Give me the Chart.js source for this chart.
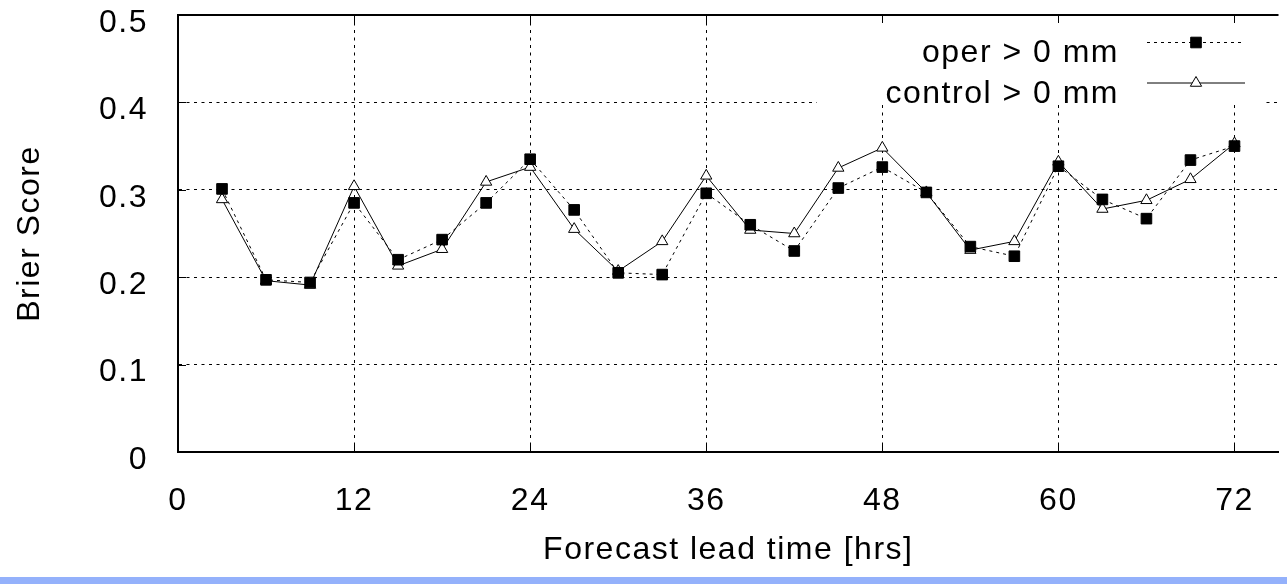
<!DOCTYPE html>
<html>
<head>
<meta charset="utf-8">
<script src="https://cdn.jsdelivr.net/npm/chart.js@4/dist/chart.umd.min.js"></script>
<style>
  html, body { margin: 0; padding: 0; background: #fff; overflow: hidden; }
  #wrap { position: relative; width: 1287px; height: 584px; }
  #bar { position: absolute; left: 0; top: 577px; width: 1287px; height: 7px; background: #94b1fb; }
</style>
</head>
<body>
<div id="wrap">
  <canvas id="chart"></canvas>
  <div id="bar"></div>
</div>
<script>
// forecast lead time (hrs)
const hours = [3, 6, 9, 12, 15, 18, 21, 24, 27, 30, 33, 36, 39, 42, 45, 48, 51, 54, 57, 60, 63, 66, 69, 72];
// Brier score
const oper = [0.301, 0.197, 0.194, 0.285, 0.220, 0.243, 0.285, 0.335, 0.277, 0.205, 0.203, 0.296,
              0.260, 0.230, 0.302, 0.326, 0.297, 0.235, 0.224, 0.327, 0.289, 0.267, 0.334, 0.350];
const control = [0.289, 0.196, 0.191, 0.304, 0.213, 0.232, 0.309, 0.326, 0.255, 0.207, 0.241, 0.316,
                 0.254, 0.250, 0.325, 0.348, 0.297, 0.231, 0.241, 0.332, 0.278, 0.288, 0.312, 0.353];
const seriesNames = ['oper > 0 mm', 'control > 0 mm'];
const xTicks = [0, 12, 24, 36, 48, 60, 72];
const xLabels = ['0', '12', '24', '36', '48', '60', '72'];
const yTicks = [0, 0.1, 0.2, 0.3, 0.4, 0.5];
const yLabels = ['0', '0.1', '0.2', '0.3', '0.4', '0.5'];

Chart.defaults.font.family = "'Liberation Sans', Arial, sans-serif";
Chart.defaults.font.size = 32;
Chart.defaults.color = '#000';

const SPACING = '1.5px';

// gnuplot style frame: top border, inward tics, boxed key
const gnuFrame = {
    id: 'gnuFrame',
    beforeLayout(chart) { chart.ctx.letterSpacing = SPACING; },
    beforeDraw(chart) { chart.ctx.letterSpacing = SPACING; },
    beforeDatasetsDraw(chart) {
        const ctx = chart.ctx;
        ctx.save();
        ctx.fillStyle = '#fff';
        ctx.fillRect(817, chart.chartArea.top + 1, 448, 89);
        ctx.fillStyle = '#000';
        ctx.font = "32px 'Liberation Sans', Arial, sans-serif";
        ctx.letterSpacing = SPACING;
        ctx.textAlign = 'right';
        ctx.textBaseline = 'alphabetic';
        const rows = [62, 103];
        const samples = [42.5, 83];
        chart.data.datasets.forEach((ds, i) => {
            ctx.fillText(seriesNames[i], 1119, rows[i]);
            ctx.save();
            ctx.strokeStyle = '#000';
            ctx.lineWidth = 1;
            ctx.setLineDash(ds.borderDash || []);
            ctx.beginPath();
            ctx.moveTo(1147, samples[i]);
            ctx.lineTo(1245, samples[i]);
            ctx.stroke();
            ctx.restore();
            ctx.save();
            ctx.fillStyle = ds.pointBackgroundColor;
            ctx.strokeStyle = ds.pointBorderColor;
            ctx.lineWidth = 1;
            Chart.helpers.drawPoint(ctx, { pointStyle: ds.pointStyle, radius: ds.pointRadius, borderWidth: 1, rotation: 0 }, 1196, samples[i]);
            ctx.restore();
        });
        ctx.restore();
    },
    afterDraw(chart) {
        const ctx = chart.ctx;
        const a = chart.chartArea;
        const x = chart.scales.x, y = chart.scales.y;
        ctx.save();
        ctx.strokeStyle = '#000';
        ctx.lineWidth = 2;
        ctx.beginPath();
        ctx.moveTo(a.left, a.top);
        ctx.lineTo(a.right, a.top);
        ctx.stroke();
        ctx.lineWidth = 1;
        ctx.beginPath();
        xTicks.forEach(v => {
            const px = Math.round(x.getPixelForValue(v)) + 0.5;
            ctx.moveTo(px, a.bottom); ctx.lineTo(px, a.bottom - 8);
            ctx.moveTo(px, a.top); ctx.lineTo(px, a.top + 8);
        });
        yTicks.forEach(v => {
            const py = Math.round(y.getPixelForValue(v)) + 0.5;
            ctx.moveTo(a.left, py); ctx.lineTo(a.left + 8, py);
        });
        ctx.stroke();
        ctx.restore();
    }
};

new Chart(document.getElementById('chart'), {
    type: 'line',
    data: {
        datasets: [{
            label: seriesNames[0],
            data: hours.map((h, i) => ({ x: h, y: oper[i] })),
            borderColor: '#000',
            borderWidth: 1,
            borderDash: [3, 4],
            pointStyle: 'rect',
            pointRadius: 7.5,
            pointBackgroundColor: '#000',
            pointBorderColor: '#000',
            pointBorderWidth: 1,
            tension: 0
        }, {
            label: seriesNames[1],
            data: hours.map((h, i) => ({ x: h, y: control[i] })),
            borderColor: '#000',
            borderWidth: 1,
            pointStyle: 'triangle',
            pointRadius: 6.5,
            pointBackgroundColor: '#fff',
            pointBorderColor: '#000',
            pointBorderWidth: 1,
            tension: 0
        }]
    },
    options: {
        responsive: true,
        maintainAspectRatio: false,
        animation: false,
        events: [],
        layout: { padding: { top: 15, right: 0, bottom: 0, left: 0 } },
        plugins: { legend: { display: false }, tooltip: { enabled: false } },
        scales: {
            x: {
                type: 'linear',
                min: 0,
                max: 75,
                afterBuildTicks: (s) => { s.ticks = xTicks.map(v => ({ value: v })); },
                afterFit: (s) => { s.height = 132; s.paddingLeft = 0; s.paddingRight = 0; },
                ticks: { padding: 30, maxRotation: 0, callback: (v, i) => xLabels[i] },
                grid: { color: '#000', lineWidth: 1, drawTicks: false },
                border: { color: '#000', width: 2, dash: [3, 4.5] },
                title: { display: true, text: 'Forecast lead time [hrs]', padding: { top: 0, bottom: 15 } }
            },
            y: {
                min: 0,
                max: 0.5,
                afterBuildTicks: (s) => { s.ticks = yTicks.map(v => ({ value: v })); },
                afterFit: (s) => { s.width = 178; s.paddingTop = 0; s.paddingBottom = 0; },
                ticks: { padding: 30, labelOffset: 8, callback: (v, i) => yLabels[i] },
                grid: { color: '#000', lineWidth: 1, drawTicks: false },
                border: { color: '#000', width: 2, dash: [3, 4.5] },
                title: { display: true, text: 'Brier Score', padding: { top: 11, bottom: 0 } }
            }
        }
    },
    plugins: [gnuFrame]
});
</script>
</body>
</html>
